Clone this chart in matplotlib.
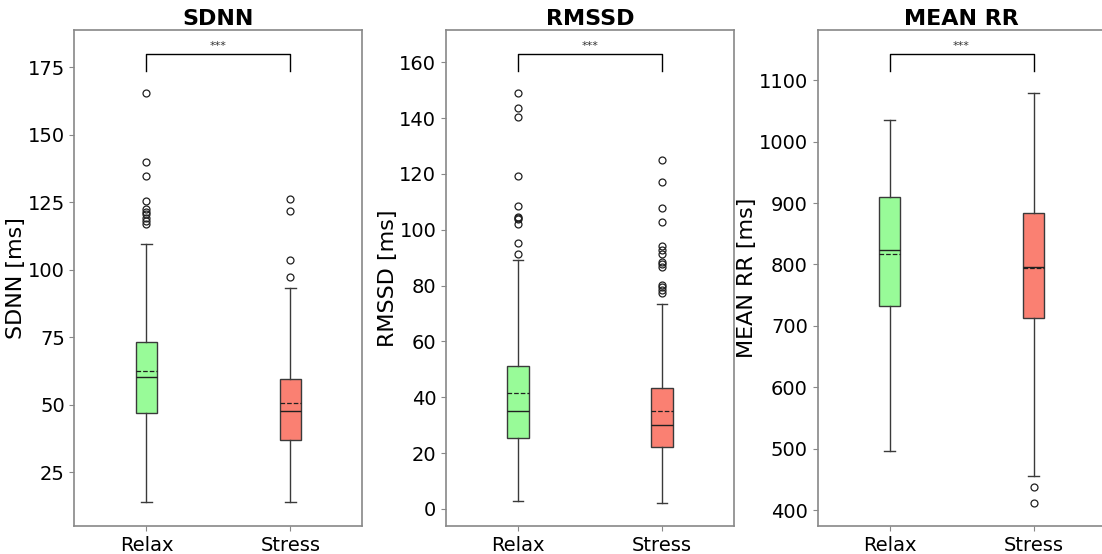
import matplotlib
matplotlib.use("Agg")
import matplotlib.pyplot as plt
import matplotlib.transforms as mtransforms

groups = ["Relax", "Stress"]
box_colors = ["palegreen", "salmon"]
metrics = ["SDNN", "RMSSD", "MEAN RR"]
ylabels = ["SDNN [ms]", "RMSSD [ms]", "MEAN RR [ms]"]

# per metric: [Relax, Stress]
whislo = [[14.0, 13.9], [3.0, 2.0], [496.0, 455.0]]
q1 = [[47.1, 36.9], [25.6, 22.2], [732.8, 712.2]]
median = [[60.4, 47.6], [35.0, 30.0], [823.1, 796.2]]
mean = [[62.6, 50.6], [41.7, 35.0], [817.4, 794.5]]
q3 = [[73.4, 59.7], [51.2, 43.2], [910.6, 883.7]]
whishi = [[109.4, 93.1], [89.1, 73.6], [1034.6, 1078.7]]
fliers = [
    [[165.4, 139.9, 134.6, 125.6, 122.4, 121.5, 120.5, 119.3, 118.0, 116.8],
     [126.1, 121.6, 103.5, 97.4]],
    [[148.9, 143.5, 140.5, 119.1, 108.4, 104.7, 104.2, 103.9, 102.1, 95.4, 91.3],
     [125.0, 117.2, 107.8, 102.9, 94.3, 92.8, 91.4, 88.3, 87.6, 86.8, 80.2, 79.4, 78.4, 77.5]],
    [[], [437.2, 411.4]],
]
ylims = [(5.1, 188.6), (-6.1, 171.4), (374, 1181)]
yticks = [[25, 50, 75, 100, 125, 150, 175],
          [0, 20, 40, 60, 80, 100, 120, 140, 160],
          [400, 500, 600, 700, 800, 900, 1000, 1100]]
significance = ["***", "***", "***"]

fig, axes = plt.subplots(1, 3, figsize=(11.02, 5.54), dpi=100)
# the right panel runs slightly past the figure edge, as in the original crop
fig.subplots_adjust(left=0.0676, right=1.0032, top=0.945, bottom=0.0505, wspace=0.29)

line_col = "#3a3a3a"
for i, ax in enumerate(axes):
    stats = []
    for j, g in enumerate(groups):
        stats.append(dict(label=g, whislo=whislo[i][j], q1=q1[i][j], med=median[i][j],
                          mean=mean[i][j], q3=q3[i][j], whishi=whishi[i][j],
                          fliers=fliers[i][j]))
    bp = ax.bxp(stats, positions=[1, 2], widths=0.15, patch_artist=True,
                showmeans=True, meanline=True,
                boxprops=dict(edgecolor=line_col, linewidth=1.0),
                whiskerprops=dict(color=line_col, linewidth=1.0),
                capprops=dict(color=line_col, linewidth=1.0),
                medianprops=dict(color="#202020", linewidth=1.0),
                meanprops=dict(color="#202020", linestyle="--", linewidth=0.9),
                flierprops=dict(marker="o", markerfacecolor="none",
                                markeredgecolor="#202020", markersize=5,
                                markeredgewidth=0.9))
    for patch, c in zip(bp["boxes"], box_colors):
        patch.set_facecolor(c)

    ax.set_xlim(0.5, 2.5)
    ax.set_ylim(*ylims[i])
    ax.set_yticks(yticks[i])
    ax.tick_params(labelsize=14, color="#888888")
    ax.set_ylabel(ylabels[i], fontsize=16, labelpad=1)
    ax.set_title(metrics[i], fontsize=16, fontweight="bold", pad=4)
    for sp in ax.spines.values():
        sp.set_color("#888888")
        sp.set_linewidth(1.2)

    # significance bracket
    trans = mtransforms.blended_transform_factory(ax.transData, ax.transAxes)
    ax.plot([1, 1, 2, 2], [0.918, 0.952, 0.952, 0.918], color="black",
            linewidth=1.0, transform=trans)
    ax.text(1.5, 0.958, significance[i], ha="center", va="bottom", fontsize=8,
            color="#333333", transform=trans)

fig.savefig("out.png", dpi=100)
